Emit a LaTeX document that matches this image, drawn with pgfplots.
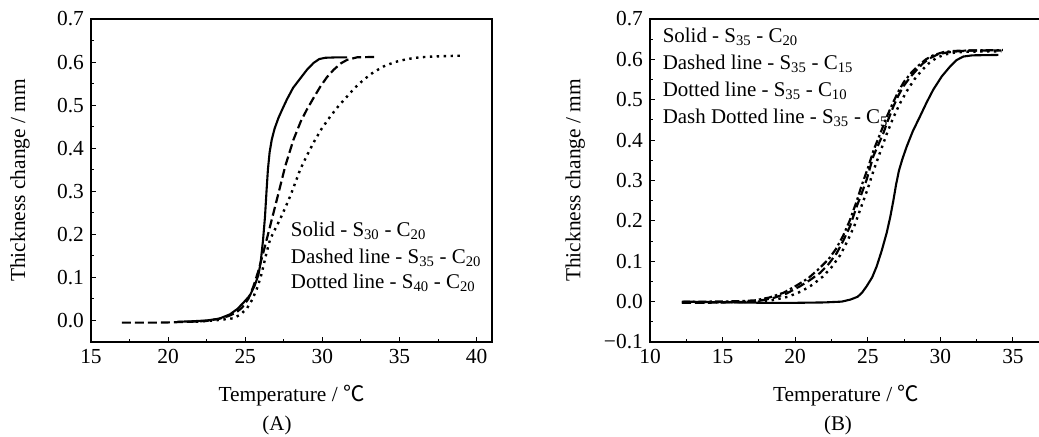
\documentclass[border=0pt]{standalone}
\usepackage{fontspec}
\setmainfont{Liberation Serif}
\newfontfamily\cjk{Noto Sans CJK SC}
\usepackage{pgfplots}
\pgfplotsset{compat=1.18}
\begin{document}
\fontsize{21}{25}\selectfont
\begin{tikzpicture}
\useasboundingbox (0bp,0bp) rectangle (1039bp,437bp);
\pgfplotsset{
  myax/.style={
    scale only axis, height=323bp, anchor=south west,
    axis line style={line width=1.3bp},
    every tick/.style={black, line width=1bp},
    tick align=inside, major tick length=5bp, minor tick length=3bp,
    xtick pos=bottom, ytick pos=left,
    minor x tick num=1, minor y tick num=1,
    ticklabel style={font=\fontsize{21.5}{25}\selectfont},
    /pgf/number format/assume math mode=true,
    label style={font=\fontsize{21.5}{25}\selectfont},
    xlabel={Temperature / {\cjk ℃}},
    ylabel={Thickness change / mm},
    clip=false,
  },
  solidl/.style={black, line width=2.1bp},
  dashl/.style={black, line width=2.2bp, dash pattern=on 9bp off 4bp},
  dotl/.style={black, line width=2.4bp, dash pattern=on 2.4bp off 4.5bp},
  dashdotl/.style={black, line width=2.2bp, dash pattern=on 8bp off 3bp on 2.5bp off 3bp},
}
% ---------------- Panel A ----------------
\begin{axis}[myax, at={(91bp,95bp)}, width=401bp,
  xmin=15, xmax=41, ymin=-0.05, ymax=0.7,
  xtick={15,20,...,40}, ytick={0,0.1,...,0.7},
  yticklabel style={/pgf/number format/.cd, fixed, fixed zerofill, precision=1},
  xlabel style={at={(axis description cs:0.5,-0.165)}, anchor=center},
  ylabel style={at={(axis description cs:-0.177,0.5)}, anchor=center},
]
\addplot[solidl] coordinates {
(20.6,-0.003) (21.5,-0.002) (22.5,0.0) (23.3,0.004) (24.0,0.014) (24.5,0.027) (24.9,0.042) (25.3,0.058) (25.6,0.08) (25.85,0.105) (26.0,0.135) (26.15,0.185) (26.28,0.24) (26.38,0.3) (26.47,0.35) (26.58,0.39) (26.72,0.42) (26.9,0.445) (27.15,0.47) (27.4,0.49) (27.7,0.513) (28.1,0.54) (28.57,0.562) (29.0,0.582) (29.43,0.598) (29.8,0.607) (30.2,0.61) (31.0,0.611) (31.6,0.611)};
\addplot[dashl] coordinates {
(17.0,-0.005) (18.5,-0.005) (19.5,-0.005) (20.5,-0.004) (21.5,-0.003) (22.5,-0.001) (23.3,0.004) (23.9,0.01) (24.4,0.018) (24.8,0.03) (25.2,0.05) (25.54,0.08) (25.85,0.115) (26.19,0.16) (26.62,0.22) (27.06,0.282) (27.6,0.359) (28.13,0.42) (28.6,0.462) (29.0,0.49) (29.45,0.518) (29.87,0.543) (30.3,0.565) (30.73,0.582) (31.2,0.597) (31.6,0.605) (32.25,0.611) (33.55,0.612)};
\addplot[dotl] coordinates {
(21.8,-0.003) (23.0,0.0) (24.24,0.005) (24.7,0.014) (25.11,0.028) (25.45,0.048) (25.76,0.074) (26.0,0.1) (26.19,0.128) (26.4,0.16) (26.62,0.189) (26.95,0.213) (27.27,0.236) (27.6,0.262) (27.92,0.289) (28.25,0.32) (28.57,0.351) (29.0,0.383) (29.43,0.413) (29.95,0.445) (30.52,0.474) (31.05,0.498) (31.6,0.52) (32.1,0.54) (32.68,0.559) (33.3,0.576) (33.98,0.59) (34.7,0.6) (35.5,0.607) (36.3,0.611) (37.2,0.613) (38.2,0.614) (39.2,0.615)};
\node[anchor=base west, inner sep=0pt] at (axis cs:27.95,0.196) {Solid - S$_{\mathrm{30}}$ - C$_{\mathrm{20}}$};
\node[anchor=base west, inner sep=0pt] at (axis cs:27.95,0.132) {Dashed line - S$_{\mathrm{35}}$ - C$_{\mathrm{20}}$};
\node[anchor=base west, inner sep=0pt] at (axis cs:27.95,0.074) {Dotted line - S$_{\mathrm{40}}$ - C$_{\mathrm{20}}$};
\end{axis}
% ---------------- Panel B ----------------
\begin{axis}[myax, at={(650bp,95bp)}, width=392bp,
  xmin=10, xmax=37, ymin=-0.1, ymax=0.7,
  xtick={10,15,...,35}, ytick={-0.1,0,0.1,0.2,0.3,0.4,0.5,0.6,0.7},
  yticklabels={−0.1,0.0,0.1,0.2,0.3,0.4,0.5,0.6,0.7},
  xlabel style={at={(axis description cs:0.5,-0.165)}, anchor=center},
  ylabel style={at={(axis description cs:-0.191,0.5)}, anchor=center},
]
\addplot[solidl] coordinates {
(12.3,0.0) (14,-0.001) (16,-0.002) (18,-0.003) (20,-0.003) (22,-0.002) (23.2,0.0) (23.8,0.005) (24.3,0.012) (24.6,0.022) (24.92,0.038) (25.3,0.06) (25.61,0.087) (25.95,0.125) (26.3,0.17) (26.55,0.21) (26.76,0.25) (26.95,0.29) (27.15,0.325) (27.4,0.355) (27.68,0.384) (28.1,0.422) (28.6,0.459) (29.05,0.493) (29.51,0.525) (30.1,0.558) (30.66,0.582) (31.1,0.598) (31.58,0.607) (32.2,0.61) (33.99,0.611)};
\addplot[dashl] coordinates {
(12.2,-0.003) (13.5,-0.003) (15,-0.002) (16.5,-0.001) (17.5,0.002) (18.5,0.009) (19.4,0.02) (20.33,0.038) (21.0,0.053) (21.71,0.071) (22.3,0.093) (22.86,0.12) (23.3,0.15) (23.77,0.186) (24.24,0.236) (24.6,0.27) (24.92,0.302) (25.38,0.36) (26.07,0.417) (26.4,0.45) (26.76,0.483) (27.1,0.51) (27.45,0.533) (27.9,0.555) (28.37,0.574) (28.8,0.59) (29.28,0.603) (29.8,0.612) (30.43,0.617) (31.2,0.62) (32.04,0.622) (34.2,0.622)};
\addplot[dotl] coordinates {
(12.2,-0.002) (14,-0.002) (16,-0.001) (17.5,0.0) (18.5,0.004) (19.5,0.012) (20.4,0.025) (21.2,0.042) (21.9,0.062) (22.5,0.085) (23.1,0.115) (23.6,0.15) (24.1,0.19) (24.55,0.235) (25.0,0.28) (25.4,0.325) (25.85,0.37) (26.3,0.415) (26.75,0.455) (27.2,0.49) (27.7,0.522) (28.2,0.55) (28.7,0.572) (29.2,0.59) (29.7,0.603) (30.3,0.612) (31.0,0.617) (31.8,0.619) (34.2,0.62)};
\addplot[dashdotl] coordinates {
(12.2,0.0) (14,0.0) (16,0.001) (17.2,0.003) (18.2,0.01) (19.2,0.022) (20.1,0.04) (20.9,0.058) (21.6,0.08) (22.3,0.105) (22.8,0.13) (23.3,0.163) (23.75,0.2) (24.2,0.245) (24.6,0.29) (25.0,0.33) (25.4,0.375) (25.9,0.42) (26.3,0.457) (26.7,0.49) (27.1,0.52) (27.5,0.545) (28.0,0.567) (28.5,0.585) (29.0,0.6) (29.5,0.61) (30.2,0.618) (31.0,0.621) (32.0,0.622) (34.3,0.623)};
\node[anchor=base west, inner sep=0pt] at (axis cs:10.87,0.642) {Solid - S$_{\mathrm{35}}$ - C$_{\mathrm{20}}$};
\node[anchor=base west, inner sep=0pt] at (axis cs:10.87,0.574) {Dashed line - S$_{\mathrm{35}}$ - C$_{\mathrm{15}}$};
\node[anchor=base west, inner sep=0pt] at (axis cs:10.87,0.508) {Dotted line - S$_{\mathrm{35}}$ - C$_{\mathrm{10}}$};
\node[anchor=base west, inner sep=0pt] at (axis cs:10.87,0.442) {Dash Dotted line - S$_{\mathrm{35}}$ - C$_{\mathrm{5}}$};
\end{axis}
\node at (277bp,12bp) {(A)};
\node at (838bp,12bp) {(B)};
\end{tikzpicture}
\end{document}
